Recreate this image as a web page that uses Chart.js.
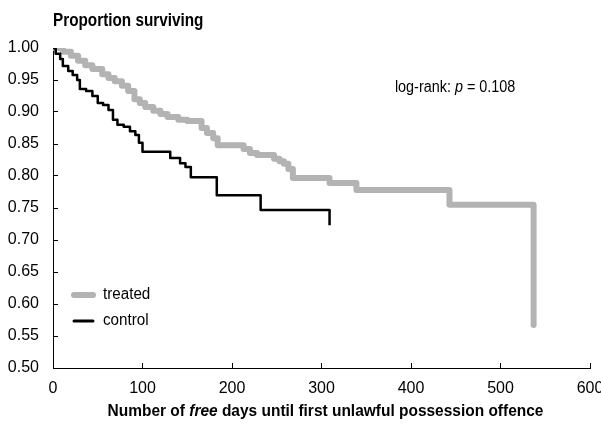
<!DOCTYPE html>
<html>
<head>
<meta charset="utf-8">
<script src="https://cdn.jsdelivr.net/npm/chart.js@4.4.1/dist/chart.umd.min.js"></script>
<style>
  html, body { margin: 0; padding: 0; background: #fff; }
  #box { width: 601px; height: 425px; }
</style>
</head>
<body>
<div id="box"><canvas id="grafico"></canvas></div>
<script>
// Dados (dias livres, proporção sobrevivendo)
const treatedDays = [0, 11, 20, 28, 36, 44, 55, 62, 69, 77, 84, 91, 97, 103, 112, 120, 128, 140, 150, 166, 172, 179, 184, 213, 220, 228, 247, 253, 258, 263, 268, 309, 339, 443, 537];
const treatedSurv = [1.0, 0.994, 0.988, 0.980, 0.973, 0.967, 0.959, 0.953, 0.948, 0.941, 0.933, 0.920, 0.914, 0.908, 0.902, 0.897, 0.892, 0.888, 0.886, 0.875, 0.867, 0.859, 0.848, 0.842, 0.836, 0.833, 0.827, 0.823, 0.819, 0.811, 0.797, 0.789, 0.778, 0.755, 0.567];

const controlDays = [0, 3, 8, 11, 17, 22, 27, 30, 37, 44, 50, 56, 62, 67, 72, 79, 86, 92, 96, 100, 131, 142, 148, 154, 183, 232, 309];
const controlSurv = [1.0, 0.991, 0.983, 0.972, 0.964, 0.958, 0.950, 0.936, 0.933, 0.925, 0.914, 0.911, 0.903, 0.888, 0.880, 0.877, 0.870, 0.864, 0.852, 0.838, 0.828, 0.820, 0.814, 0.798, 0.770, 0.747, 0.723];

const xTicks = [0, 100, 200, 300, 400, 500, 600];
const yTicks = [0.50, 0.55, 0.60, 0.65, 0.70, 0.75, 0.80, 0.85, 0.90, 0.95, 1.00];

const FONT = "'Liberation Sans', Arial, sans-serif";
const CINZA = "#b3b3b3";

function pontos(xs, ys) {
  return xs.map((x, i) => ({ x: x, y: ys[i] }));
}

// escreve pedaços de texto com estilos diferentes, "apertados" na horizontal (fonte narrow não existe aqui)
function textoMisto(ctx, partes, x, y, aperto, centro) {
  ctx.save();
  ctx.translate(x, y);
  ctx.scale(aperto, 1);
  let total = 0;
  partes.forEach(p => { ctx.font = p[1] + FONT; total += ctx.measureText(p[0]).width; });
  let px = centro ? -total / 2 : 0;
  partes.forEach(p => {
    ctx.font = p[1] + FONT;
    ctx.fillText(p[0], px, 0);
    px += ctx.measureText(p[0]).width;
  });
  ctx.restore();
}

// Textos extras: título, log-rank, legenda e título do eixo x (com "free" em itálico)
const textos = {
  id: "textos",
  afterDraw(chart) {
    const ctx = chart.ctx;
    const area = chart.chartArea;
    const sx = chart.scales.x;
    const sy = chart.scales.y;
    ctx.save();
    ctx.fillStyle = "#000";
    ctx.textBaseline = "middle";
    ctx.textAlign = "left";

    // título em cima
    textoMisto(ctx, [["Proportion surviving", "bold 18px "]], area.left, 21, 0.85, false);

    // log-rank: p = 0.108
    textoMisto(ctx, [["log-rank: ", "16px "], ["p", "italic 16px "], [" = 0.108", "16px "]],
      sx.getPixelForValue(382), sy.getPixelForValue(0.938), 0.9, false);

    // legenda
    const itens = [
      { nome: "treated", cor: CINZA, larg: 6, y: 295 },
      { nome: "control", cor: "#000", larg: 3, y: 321 }
    ];
    itens.forEach(it => {
      ctx.strokeStyle = it.cor;
      ctx.lineWidth = it.larg;
      ctx.lineCap = "round";
      ctx.beginPath();
      ctx.moveTo(74, it.y);
      ctx.lineTo(93, it.y);
      ctx.stroke();
      textoMisto(ctx, [[it.nome, "16px "]], 103, it.y, 0.95, false);
    });

    // título do eixo x
    textoMisto(ctx, [["Number of ", "bold 17px "], ["free", "italic bold 17px "], [" days until first unlawful possession offence", "bold 17px "]],
      (area.left + area.right) / 2 + 4, 411, 0.91, true);
    ctx.restore();
  }
};

new Chart(document.getElementById("grafico"), {
  type: "line",
  data: {
    datasets: [
      {
        label: "treated",
        data: pontos(treatedDays, treatedSurv),
        borderColor: CINZA,
        borderWidth: 6,
        stepped: true,
        pointRadius: 0,
        borderCapStyle: "round",
        borderJoinStyle: "round",
        order: 2
      },
      {
        label: "control",
        data: pontos(controlDays, controlSurv),
        borderColor: "#000",
        borderWidth: 2.5,
        stepped: true,
        pointRadius: 0,
        borderJoinStyle: "round",
        order: 1
      }
    ]
  },
  options: {
    responsive: true,
    maintainAspectRatio: false,
    animation: false,
    layout: { padding: { left: 0, top: 48, right: 11, bottom: 0 } },
    plugins: {
      legend: { display: false },
      tooltip: { enabled: false }
    },
    scales: {
      x: {
        type: "linear",
        min: 0,
        max: 600,
        afterBuildTicks: s => { s.ticks = xTicks.map(v => ({ value: v })); },
        afterFit: s => { s.height = 57; s.paddingLeft = 0; s.paddingRight = 0; },
        grid: { drawOnChartArea: false, tickLength: -5, color: "#000" },
        border: { color: "#000", width: 1 },
        ticks: { color: "#000", padding: 16, maxRotation: 0, font: { family: FONT, size: 16 } }
      },
      y: {
        min: 0.5,
        max: 1.0,
        afterBuildTicks: s => { s.ticks = yTicks.map(v => ({ value: v })); },
        afterFit: s => { s.width = 53; },
        grid: { drawOnChartArea: false, tickLength: -5, color: "#000" },
        border: { color: "#000", width: 1 },
        ticks: { color: "#000", padding: 19, font: { family: FONT, size: 16 }, callback: v => v.toFixed(2) }
      }
    }
  },
  plugins: [textos]
});
</script>
</body>
</html>
